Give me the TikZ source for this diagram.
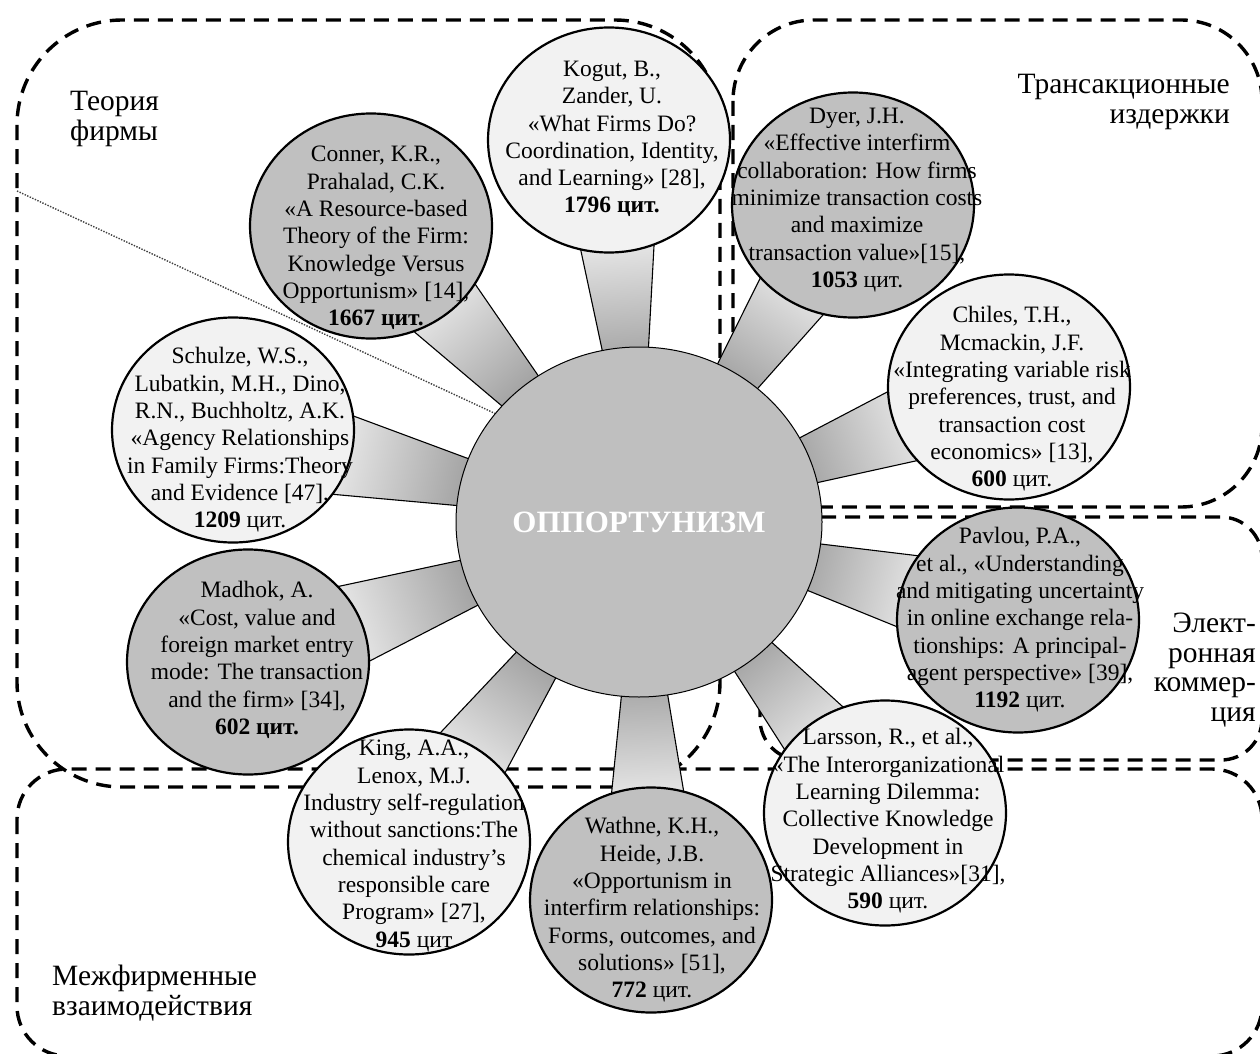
\documentclass[tikz,border=0pt]{standalone}
\usepackage{fontspec}
\setmainfont{Liberation Serif}
\usetikzlibrary{shapes.geometric,calc}

\definecolor{satdark}{HTML}{C0C0C0}
\definecolor{satlight}{HTML}{F2F2F2}
\definecolor{hubfill}{HTML}{BFBFBF}
\definecolor{spokedark}{HTML}{A0A0A0}
\definecolor{spokelight}{HTML}{F4F4F4}
\definecolor{dotgray}{HTML}{404040}

\pgfdeclarelayer{frames}
\pgfdeclarelayer{spokes}
\pgfsetlayers{frames,spokes,main}

\tikzset{
  zone/.style={draw=black, line width=3.4pt, dash pattern=on 15pt off 9pt},
  sat/.style={ellipse, draw=black, line width=2.2pt, minimum width=242pt,
              minimum height=225pt, inner sep=0pt},
  satD/.style={sat, fill=satdark},
  satL/.style={sat, fill=satlight},
  reftext/.style={align=center, inner sep=0pt,
                  font=\fontsize{23.5}{27.3}\selectfont},
  zonelabel/.style={inner sep=0pt, font=\fontsize{29.5}{29.5}\selectfont},
  spoke/.style={draw=black, line width=1.1pt, shading=axis,
                bottom color=spokedark, top color=spokelight},
  dotline/.style={draw=dotgray, line width=1.4pt, dash pattern=on 1.4pt off 1.4pt},
}

\begin{document}
\begin{tikzpicture}[x=1pt, y=-1pt]
\useasboundingbox (0,0) rectangle (1260,1054);

% dashed research areas
\begin{pgfonlayer}{frames}
  \fill[white] (0,0) rectangle (1260,1054);
  \draw[zone, rounded corners=105pt] (17,20) rectangle (720,787);
  \draw[zone, rounded corners=81pt] (733,20) rectangle (1262,507);
  \draw[zone, rounded corners=41pt] (760,517) rectangle (1262,760);
  \draw[zone, rounded corners=50pt] (17,769) rectangle (1262,1056);
\end{pgfonlayer}

% area captions
\node[zonelabel, align=left, anchor=west] (lbl-firm) at (70,119) {Теория\\фирмы};
\node[zonelabel, align=right, anchor=east] (lbl-trans) at (1230,102) {Трансакционные\\издержки};
\node[zonelabel, align=right, anchor=east] (lbl-ecom) at (1256,670) {Элект-\\ронная\\коммер-\\ция};
\node[zonelabel, align=left, anchor=west] (lbl-inter) at (52,993) {Межфирменные\\взаимодействия};

% hub
\node[ellipse, draw=black, line width=1pt, fill=hubfill, minimum width=366pt,
      minimum height=350pt, inner sep=0pt, text=white,
      font=\bfseries\fontsize{31}{31}\selectfont] (opp) at (639,522) {ОППОРТУНИЗМ};

% publications
\node[satL] (kogut) at (609,140) {};
\node[reftext] (kogut-t) at (612,139) {Kogut, B.,\\Zander, U.\\«What Firms Do?\\Coordination, Identity,\\and Learning» [28],\\\textbf{1796 цит.}};

\node[satD] (conner) at (371,226) {};
\node[reftext] (conner-t) at (376,238) {Conner, K.R.,\\Prahalad, C.K.\\«A Resource-based\\Theory of the Firm:\\Knowledge Versus\\Opportunism» [14],\\\textbf{1667 цит.}};

\node[satD] (dyer) at (853,205) {};
\node[reftext] (dyer-t) at (857,200) {Dyer, J.H.\\«Effective interfirm\\collaboration: How firms\\minimize transaction costs\\and maximize\\transaction value»[15],\\\textbf{1053} цит.};

\node[satL] (chiles) at (1009,387) {};
\node[reftext] (chiles-t) at (1012,399) {Chiles, T.H.,\\Mcmackin, J.F.\\«Integrating variable risk\\preferences, trust, and\\transaction cost\\economics» [13],\\\textbf{600} цит.};

\node[satL] (schulze) at (233,430) {};
\node[reftext] (schulze-t) at (240,440) {Schulze, W.S.,\\Lubatkin, M.H., Dino,\\R.N., Buchholtz, A.K.\\«Agency Relationships\\in Family Firms:Theory\\and Evidence [47],\\\textbf{1209} цит.};

\node[satD] (madhok) at (248,662) {};
\node[reftext] (madhok-t) at (257,660) {Madhok, A.\\«Cost, value and\\foreign market entry\\mode: The transaction\\and the firm» [34],\\\textbf{602 цит.}};

\node[satL] (king) at (409,842) {};
\node[reftext] (king-t) at (414,846) {King, A.A.,\\Lenox, M.J.\\Industry self-regulation\\without sanctions:The\\chemical industry's\\responsible care\\Program» [27],\\\textbf{945} цит};

\node[satD] (wathne) at (651,900) {};
\node[reftext] (wathne-t) at (652,910) {Wathne, K.H.,\\Heide, J.B.\\«Opportunism in\\interfirm relationships:\\Forms, outcomes, and\\solutions» [51],\\\textbf{772} цит.};

\node[satL] (larsson) at (885,813) {};
\node[reftext] (larsson-t) at (888,821) {Larsson, R., et al.,\\«The Interorganizational\\Learning Dilemma:\\Collective Knowledge\\Development in\\Strategic Alliances»[31],\\\textbf{590} цит.};

\node[satD] (pavlou) at (1018,620) {};
\node[reftext] (pavlou-t) at (1020,620) {Pavlou, P.A.,\\et al., «Understanding\\and mitigating uncertainty\\in online exchange rela-\\tionships: A principal-\\agent perspective» [39],\\\textbf{1192} цит.};

% tapered spokes from the hub to every publication
\begin{pgfonlayer}{spokes}
  \foreach \s/\a in {kogut/4.5, conner/42.2, dyer/-34, chiles/-70,
                     schulze/77.2, madhok/109.7, king/144.3, wathne/181.8,
                     larsson/220.2, pavlou/255.5} {
    \shade[spoke, shading angle=\a]
      ($(opp.center)!0.4!7.6:(\s.center)$) --
      ($(opp.center)!0.8!7.6:(\s.center)$) --
      ($(opp.center)!0.8!-7.6:(\s.center)$) --
      ($(opp.center)!0.4!-7.6:(\s.center)$) -- cycle;
  }
\end{pgfonlayer}

% dotted pointer
\coordinate (dotstart) at (17,191);
\draw[dotline] (dotstart) -- (opp.143);

\end{tikzpicture}
\end{document}
